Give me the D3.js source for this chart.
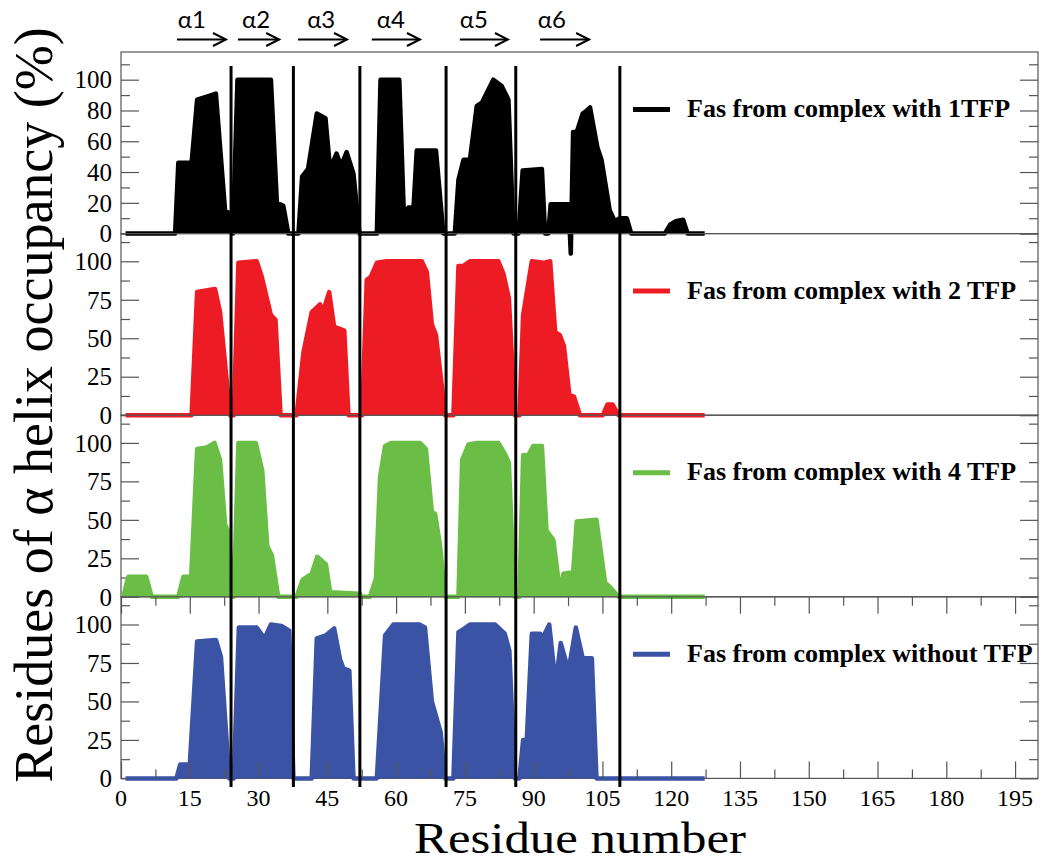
<!DOCTYPE html>
<html>
<head>
<meta charset="utf-8">
<script src="https://cdn.jsdelivr.net/npm/d3@7"></script>
<style>
  html, body { margin: 0; padding: 0; background: #fff; }
  svg { display: block; }
</style>
</head>
<body>
<svg id="chart" width="1046" height="863"></svg>
<script>
// ---------------- DATA ----------------
// x-axis tick labels (residue number)
const xTickLabels = [0, 15, 30, 45, 60, 75, 90, 105, 120, 135, 150, 165, 180, 195];
// y tick labels per panel
const yTicksPanel1 = [0, 20, 40, 60, 80, 100];
const yTicksOther = [0, 25, 50, 75, 100];

// series: [residue, alpha-helix occupancy %]
const series1TFP = [[1,0],[11.8,0],[12.5,46],[15.4,46],[16.6,87],[18.7,89],[20.7,91],[22.7,15],[23.8,13],[24.4,0],
  [25.4,100],[32.7,100],[34.0,20],[35.4,18],[36.5,0],[38.7,0],[39.5,37],[40.8,42],[42.7,78],[44.6,75],[45.6,42],
  [47.0,52],[48.0,44],[49.2,53],[50.7,39],[52.0,0],[55.8,0],[56.6,100],[60.7,100],[61.7,12],[62.7,17],[63.8,17],
  [64.5,54],[68.7,54],[70.3,0],[72.8,0],[73.6,35],[74.7,48],[76.1,48],[77.6,83],[78.7,85],[81.2,100],[83.0,96],
  [84.5,87],[85.6,0],[86.7,0],[87.6,41],[91.8,42],[92.5,0],[93.2,0],[93.7,19],[97.6,19],[98.1,-13],[98.6,66],
  [99.4,66],[100.7,78],[101.6,80],[102.3,82],[103.9,56],[104.8,48],[106.6,15],[107.7,8],[108.8,10],[110.3,10],
  [111.3,0],[118.6,0],[119.8,6],[121.0,8],[122.6,9],[123.6,0],[127.3,0]];

const series2TFP = [[1,0],[15.4,0],[16.6,80],[20.5,82],[21.6,67],[23.8,0],[24.6,0],[25.6,99],[29.6,100],[30.7,90],
  [32.7,65],[33.7,62],[34.8,0],[38.3,0],[39.8,41],[41.6,67],[43.4,72],[44.0,67],[45.4,80],[46.5,57],[47.0,57],
  [48.7,55],[49.6,0],[52.6,0],[53.6,88],[54.5,90],[55.8,99],[57.9,100],[65.6,100],[66.7,93],[67.8,59],[68.7,52],
  [70.7,0],[72.5,0],[73.6,97],[74.7,97],[76.1,100],[82.3,100],[83.4,92],[84.6,76],[85.9,0],[86.9,0],[87.7,65],
  [89.6,100],[92.1,99],[93.6,100],[94.7,54],[95.7,52],[96.6,45],[97.8,13],[98.8,12],[100.1,0],[105.1,0],
  [106.1,7],[107.2,7],[108.5,0],[127.3,0]];

const series4TFP = [[0.5,0],[1.6,13],[5.5,13],[6.7,0],[12.5,0],[13.6,13],[15.3,13],[16.6,96],[18.7,97],[20.4,100],
  [21.6,89],[22.7,47],[23.6,41],[24.3,0],[24.6,0],[25.6,100],[29.4,100],[30.8,82],[31.9,33],[32.9,27],[34.3,0],
  [38.3,0],[39.6,11],[41.6,15],[42.8,26],[44.7,21],[45.6,3],[52.1,2],[52.5,0],[54.3,0],[55.6,12],[56.5,78],
  [57.6,98],[59.0,100],[65.2,100],[66.5,96],[67.8,55],[68.5,54],[69.6,33],[70.7,0],[73.6,0],[74.4,89],[75.8,99],
  [77.6,100],[82.3,100],[83.7,93],[84.6,87],[85.8,0],[86.9,0],[87.7,92],[88.8,92],[89.9,98],[91.8,98],[92.8,43],
  [94.3,37],[95.7,4],[96.5,15],[98.6,16],[99.4,49],[103.7,50],[105.6,9],[106.6,6.5],[108.5,0],[127.3,0]];

const seriesNoTFP = [[1,0],[12.1,0],[12.9,9],[15.0,9],[16.6,89],[20.7,90],[21.8,79],[23.6,0],[24.6,0],[25.7,98],
  [29.6,98],[31.3,91],[32.7,100],[35.0,99],[36.7,96],[37.6,0],[41.6,0],[42.7,91],[44.7,93],[46.5,97.5],[47.8,77],
  [48.5,71.5],[49.8,70],[50.7,0],[55.8,0],[57.6,93],[59.4,100],[65.1,100],[66.3,98],[67.8,50],[69.7,30],[70.7,0],
  [72.5,0],[73.6,95],[74.7,97],[76.1,100],[81.6,100],[83.7,94],[84.7,83],[85.9,0],[86.9,0],[87.7,25],[88.5,25],
  [89.6,94],[91.4,94],[92.1,92],[93.4,100],[94.8,61],[95.9,88],[97.6,70],[99.2,98],[100.7,78],[102.7,78],
  [103.7,0],[127.3,0]];

const seriesNames = ["Fas from complex with 1TFP", "Fas from complex with 2 TFP",
                     "Fas from complex with 4 TFP", "Fas from complex without TFP"];
const seriesColors = ["#000000", "#ed1c24", "#6abd45", "#3a53a4"];

// helix boundaries (vertical lines) and helix annotations
const helixBoundaries = [24.0, 37.6, 52.1, 70.9, 86.1, 108.8];
const helixLabels = ["α1", "α2", "α3", "α4", "α5", "α6"];
const helixLabelStart = [12.4, 26.4, 40.6, 55.8, 73.9, 90.9];
const helixArrowStart = [12.2, 25.5, 38.6, 54.7, 73.9, 91.4];
const helixArrowEnd = [22.9, 34.5, 49.3, 65.2, 84.4, 102.1];

// ---------------- LAYOUT ----------------
const svg = d3.select("#chart");
const left = 121, right = 1038;
const panelTop0 = 52, panelH = 181.6;
const x = d3.scaleLinear().domain([0, 200]).range([left, right]);
const serif = "'Liberation Serif','Times New Roman',serif";
const frameColor = "#555";

const allSeries = [series1TFP, series2TFP, series4TFP, seriesNoTFP];

allSeries.forEach((data, i) => {
  const top = panelTop0 + i * panelH;
  const bottom = top + panelH;
  const y = d3.scaleLinear().domain([0, 118]).range([bottom, top]);
  const g = svg.append("g");

  const major = i === 0 ? yTicksPanel1 : yTicksOther;
  const step = i === 0 ? 10 : 12.5;
  const minor = d3.range(step, 118, step * 2);

  // left axis (ticks inside)
  const la = g.append("g").attr("transform", `translate(${left},0)`)
    .call(d3.axisRight(y).tickValues(major).tickSize(18).tickFormat(""));
  const lm = g.append("g").attr("transform", `translate(${left},0)`)
    .call(d3.axisRight(y).tickValues(minor).tickSize(9).tickFormat(""));
  // right axis (ticks inside)
  const ra = g.append("g").attr("transform", `translate(${right},0)`)
    .call(d3.axisLeft(y).tickValues(major).tickSize(18).tickFormat(""));
  const rm = g.append("g").attr("transform", `translate(${right},0)`)
    .call(d3.axisLeft(y).tickValues(minor).tickSize(9).tickFormat(""));
  [la, lm, ra, rm].forEach(a => {
    a.select(".domain").remove();
    a.selectAll("line").attr("stroke", frameColor).attr("stroke-width", 1.2);
  });

  // tick labels
  g.selectAll("text.ylab").data(major).enter().append("text")
    .attr("x", 112).attr("y", d => y(d))
    .attr("dy", "0.35em")
    .attr("text-anchor", "end")
    .attr("font-family", serif).attr("font-size", 25)
    .text(d => d);

  // frame
  g.append("rect").attr("x", left).attr("y", top).attr("width", right - left).attr("height", panelH)
    .attr("fill", "none").attr("stroke", frameColor).attr("stroke-width", 1.2);

  // area + line
  const area = d3.area().x(d => x(d[0])).y0(y(0)).y1(d => y(d[1]));
  const line = d3.line().x(d => x(d[0])).y(d => y(d[1]));
  g.append("path").datum(data).attr("d", area).attr("fill", seriesColors[i]);
  g.append("path").datum(data).attr("d", line).attr("fill", "none")
    .attr("stroke", seriesColors[i]).attr("stroke-width", 4.5).attr("stroke-linejoin", "round");

  // legend
  g.append("line").attr("x1", 633).attr("x2", 670).attr("y1", top + 57.5).attr("y2", top + 57.5)
    .attr("stroke", seriesColors[i]).attr("stroke-width", 5);
  g.append("text").attr("x", 687).attr("y", top + 65)
    .attr("font-family", serif).attr("font-size", 26).attr("font-weight", "bold")
    .text(seriesNames[i]);

  // x axis on last panel (bottom ticks up, top ticks down)
  if (i === 3) {
    const xMinor = d3.range(7.5, 200, 15);
    const a1 = g.append("g").attr("transform", `translate(0,${bottom})`)
      .call(d3.axisTop(x).tickValues(xTickLabels).tickSize(17).tickFormat(""));
    const a2 = g.append("g").attr("transform", `translate(0,${bottom})`)
      .call(d3.axisTop(x).tickValues(xMinor).tickSize(9).tickFormat(""));
    const a3 = g.append("g").attr("transform", `translate(0,${top})`)
      .call(d3.axisBottom(x).tickValues(xTickLabels).tickSize(17).tickFormat(""));
    const a4 = g.append("g").attr("transform", `translate(0,${top})`)
      .call(d3.axisBottom(x).tickValues(xMinor).tickSize(9).tickFormat(""));
    [a1, a2, a3, a4].forEach(a => {
      a.select(".domain").remove();
      a.selectAll("line").attr("stroke", frameColor).attr("stroke-width", 1.2);
    });
    g.selectAll("text.xlab").data(xTickLabels).enter().append("text")
      .attr("x", d => x(d)).attr("y", bottom + 27.5)
      .attr("text-anchor", "middle")
      .attr("font-family", serif).attr("font-size", 24)
      .text(d => d);
  }
});

// helix boundary lines
svg.selectAll("line.hb").data(helixBoundaries).enter().append("line")
  .attr("x1", d => x(d)).attr("x2", d => x(d))
  .attr("y1", 66).attr("y2", 787)
  .attr("stroke", "#000").attr("stroke-width", 3);

// helix annotations
const ann = svg.append("g");
helixLabels.forEach((lab, i) => {
  ann.append("text").attr("x", x(helixLabelStart[i])).attr("y", 28)
    .attr("font-family", "Lato, 'Open Sans', sans-serif").attr("font-size", 24)
    .text(lab);
  const x1 = x(helixArrowStart[i]), x2 = x(helixArrowEnd[i]), ya = 39.5;
  ann.append("line").attr("x1", x1).attr("x2", x2).attr("y1", ya).attr("y2", ya)
    .attr("stroke", "#000").attr("stroke-width", 2);
  ann.append("path").attr("d", `M${x2 - 13},${ya - 6.5} L${x2},${ya} L${x2 - 13},${ya + 6.5}`)
    .attr("fill", "none").attr("stroke", "#000").attr("stroke-width", 2);
});

// axis titles
svg.append("text")
  .attr("transform", "translate(52,405) rotate(-90)")
  .attr("text-anchor", "middle")
  .attr("font-family", serif).attr("font-size", 54)
  .text("Residues of α helix occupancy (%)");

svg.append("text")
  .attr("x", 580).attr("y", 853)
  .attr("text-anchor", "middle")
  .attr("font-family", serif).attr("font-size", 45)
  .attr("textLength", 332).attr("lengthAdjust", "spacingAndGlyphs")
  .text("Residue number");
</script>
</body>
</html>
